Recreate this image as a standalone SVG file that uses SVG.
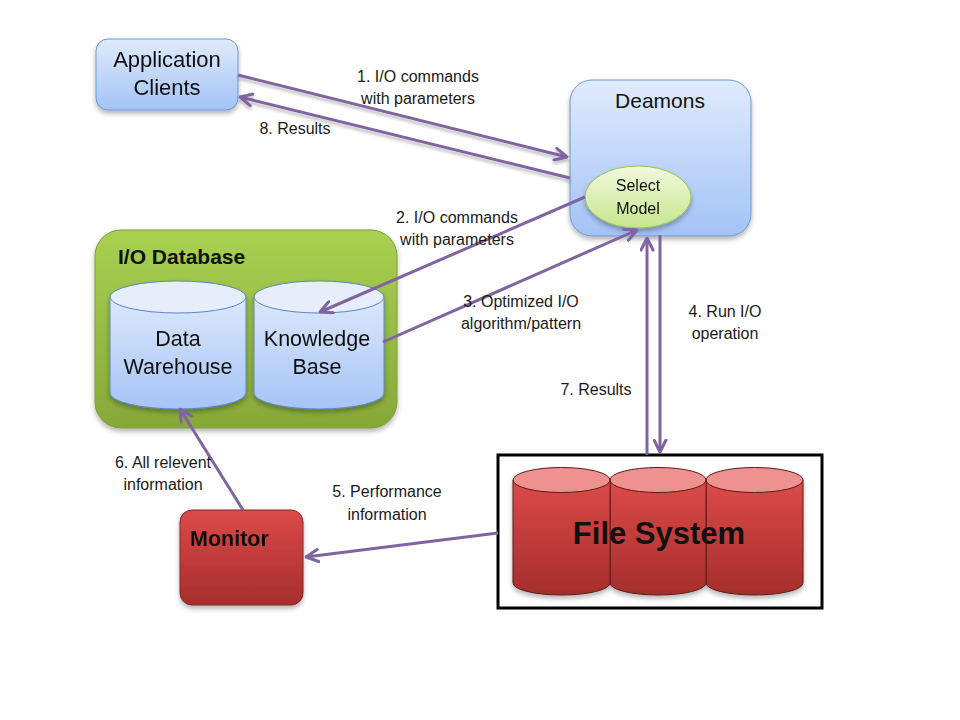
<svg xmlns="http://www.w3.org/2000/svg" width="960" height="720" viewBox="0 0 960 720">
<defs>
<linearGradient id="gBlue" x1="0" y1="0" x2="0" y2="1"><stop offset="0" stop-color="#e0ebfc"/><stop offset="1" stop-color="#a3c3f6"/></linearGradient>
<linearGradient id="gCyl" x1="0" y1="0" x2="0" y2="1"><stop offset="0" stop-color="#dce8fb"/><stop offset="1" stop-color="#a5c4f6"/></linearGradient>
<linearGradient id="gGreen" x1="0" y1="0" x2="0" y2="1"><stop offset="0" stop-color="#a9d150"/><stop offset="1" stop-color="#86a838"/></linearGradient>
<linearGradient id="gSel" x1="0" y1="0" x2="0" y2="1"><stop offset="0" stop-color="#f2f9dc"/><stop offset="1" stop-color="#c6e68e"/></linearGradient>
<linearGradient id="gRed" x1="0" y1="0" x2="0" y2="1"><stop offset="0" stop-color="#dc4a48"/><stop offset="1" stop-color="#a52e2c"/></linearGradient>
<filter id="sh" x="-20%" y="-20%" width="140%" height="150%"><feDropShadow dx="0" dy="3" stdDeviation="2.5" flood-color="#000" flood-opacity="0.3"/></filter>
<filter id="lsh" x="-5%" y="-20%" width="110%" height="140%"><feDropShadow dx="0" dy="3" stdDeviation="1.5" flood-color="#000" flood-opacity="0.25"/></filter>
<marker id="ah" viewBox="0 0 10 10" refX="9" refY="5" markerWidth="5" markerHeight="5" orient="auto-start-reverse" markerUnits="strokeWidth"><path d="M1,1 L9,5 L1,9" fill="none" stroke="#8064a2" stroke-width="2" stroke-linecap="round" stroke-linejoin="round"/></marker>
</defs>
<style>
text{font-family:"Liberation Sans",Arial,sans-serif;fill:#111}
.lbl{font-size:16px;fill:#1a1a1a}
.c{stroke:#8064a2;stroke-width:3;fill:none;marker-end:url(#ah)}
.cyl{fill:url(#gCyl);stroke:#5a86c5;stroke-width:1}
.top{fill:#e6eefc;stroke:#5a86c5;stroke-width:1}
.rc{fill:url(#gRed);stroke:#5a1a1a;stroke-width:1}
.rtop{fill:#ee9290;stroke:#5a1a1a;stroke-width:1}
</style>
<rect width="960" height="720" fill="#fff"/>

<g id="app-clients" filter="url(#sh)">
<rect x="96" y="39" width="142" height="71" rx="12" fill="url(#gBlue)" stroke="#6e97d1" stroke-width="1"/>
<text x="167" y="67" font-size="22" text-anchor="middle">Application</text>
<text x="167" y="95" font-size="22" text-anchor="middle">Clients</text>
</g>

<g id="deamons">
<rect x="570" y="80" width="181" height="156" rx="22" fill="url(#gBlue)" stroke="#6e97d1" stroke-width="1" filter="url(#sh)"/>
<text x="660" y="108" font-size="21" text-anchor="middle">Deamons</text>
</g>

<g id="select-model" filter="url(#sh)">
<ellipse cx="638" cy="197" rx="53" ry="31" fill="url(#gSel)" stroke="#9cbf5a" stroke-width="1"/>
<text x="638" y="191" font-size="16" text-anchor="middle">Select</text>
<text x="638" y="214" font-size="16" text-anchor="middle">Model</text>
</g>

<g id="io-database">
<rect x="95" y="230" width="302" height="198" rx="26" fill="url(#gGreen)" stroke="#7c9d38" stroke-width="1" filter="url(#sh)"/>
<text x="118" y="264" font-size="21" font-weight="bold">I/O Database</text>
</g>

<g id="data-warehouse" filter="url(#sh)">
<path class="cyl" d="M110,297 L110,393 A68,16 0 0 0 246,393 L246,297 Z"/>
<ellipse class="top" cx="178" cy="297" rx="68" ry="16"/>
<text x="178" y="346" font-size="21.5" text-anchor="middle">Data</text>
<text x="178" y="374" font-size="21.5" text-anchor="middle">Warehouse</text>
</g>

<g id="knowledge-base" filter="url(#sh)">
<path class="cyl" d="M254,297 L254,393 A65,16 0 0 0 384,393 L384,297 Z"/>
<ellipse class="top" cx="319" cy="297" rx="65" ry="16"/>
<text x="317" y="346" font-size="21.5" text-anchor="middle">Knowledge</text>
<text x="317" y="374" font-size="21.5" text-anchor="middle">Base</text>
</g>

<g id="monitor" filter="url(#sh)">
<rect x="180" y="510" width="123" height="95" rx="12" fill="url(#gRed)" stroke="#8a2624" stroke-width="1"/>
<text x="190" y="546" font-size="21.5" font-weight="bold">Monitor</text>
</g>

<g id="file-system">
<rect x="498" y="455" width="324" height="153" fill="#fff" stroke="#000" stroke-width="3"/>
<g filter="url(#sh)">
<path class="rc" d="M706,480 L706,583 A48.5,12 0 0 0 803,583 L803,480 Z"/>
<ellipse class="rtop" cx="754.5" cy="480" rx="48.5" ry="12.5"/>
<path class="rc" d="M610,480 L610,583 A48,12 0 0 0 706,583 L706,480 Z"/>
<ellipse class="rtop" cx="658" cy="480" rx="48" ry="12.5"/>
<path class="rc" d="M513,480 L513,583 A48.5,12 0 0 0 610,583 L610,480 Z"/>
<ellipse class="rtop" cx="561.5" cy="480" rx="48.5" ry="12.5"/>
</g>
<text x="659" y="544" font-size="31" font-weight="bold" text-anchor="middle">File System</text>
</g>

<g id="connectors">
<g filter="url(#lsh)">
<line class="c" x1="238" y1="75" x2="567" y2="157"/>
<line class="c" x1="570" y1="178" x2="240" y2="97"/>
</g>
<line class="c" x1="585" y1="197" x2="320" y2="312"/>
<line class="c" x1="383" y1="342" x2="637" y2="230"/>
<line class="c" x1="660" y1="235" x2="660" y2="452"/>
<line class="c" x1="647" y1="455" x2="647" y2="238"/>
<line class="c" x1="498" y1="533" x2="306" y2="557"/>
<line class="c" x1="243" y1="510" x2="180" y2="409"/>
</g>

<g id="labels">
<text class="lbl" x="418" y="82" text-anchor="middle">1. I/O commands</text>
<text class="lbl" x="418" y="104" text-anchor="middle">with parameters</text>
<text class="lbl" x="295" y="134" text-anchor="middle">8. Results</text>
<text class="lbl" x="457" y="223" text-anchor="middle">2. I/O commands</text>
<text class="lbl" x="457" y="245" text-anchor="middle">with parameters</text>
<text class="lbl" x="521" y="307" text-anchor="middle">3. Optimized I/O</text>
<text class="lbl" x="521" y="329" text-anchor="middle">algorithm/pattern</text>
<text class="lbl" x="725" y="317" text-anchor="middle">4. Run I/O</text>
<text class="lbl" x="725" y="339" text-anchor="middle">operation</text>
<text class="lbl" x="596" y="395" text-anchor="middle">7. Results</text>
<text class="lbl" x="163" y="468" text-anchor="middle">6. All relevent</text>
<text class="lbl" x="163" y="490" text-anchor="middle">information</text>
<text class="lbl" x="387" y="497" text-anchor="middle">5. Performance</text>
<text class="lbl" x="387" y="520" text-anchor="middle">information</text>
</g>
</svg>
